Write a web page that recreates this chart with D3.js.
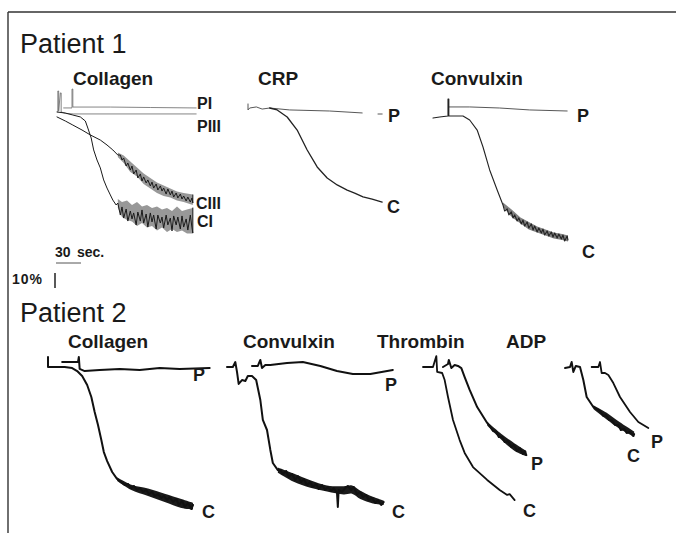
<!DOCTYPE html>
<html lang="en">
<head>
<meta charset="UTF-8">
<title>Platelet aggregation traces</title>
<script src="https://cdn.jsdelivr.net/npm/d3@7"></script>
<style>
    body { margin: 0; background: #fff; }
    svg { display: block; }
    text { font-family: "Liberation Sans", Arial, Helvetica, sans-serif; fill: #1a1a1a; }
</style>
</head>
<body>
<svg id="chart" width="676" height="533"></svg>
<script>
// calibration of the recorder: 30 sec and 10% aggregation
const barSeconds = 30;
const barPercent = 10;

const rowTitles = ["Patient 1", "Patient 2"];
const agonists = ["Collagen", "CRP", "Convulxin", "Collagen", "Convulxin", "Thrombin", "ADP"];
const traceNames = [["PI", "PIII", "CIII", "CI"], ["P", "C"], ["P", "C"], ["P", "C"], ["P", "C"], ["P", "C"], ["C", "P"]];

// traces: [seconds, % change in light transmission]; null = pen lifted
// Patient 1 - Collagen
const p1ColPI = [[8,-2.7],[18,-2.7],[18,-15.3],[19,-15.3],[19,-3.3],[64,-3.3],[112,-3],[167,-2.7]];
const p1ColPIII = [[1,0],[1,-14],[2,-14],[2,-0.7],[4,-12.7],[5,-12.7],[5,0],[11,1],[20,1.3],[167,1.3]];
const p1ColCIII = [[0,3.3],[10,6],[19,8.7],[30,12],[40,15.3],[52,18.7],[60,22],[67,25.3],[73,28.7],
    [76,28.7],[78,32],[80,30.7],[83,36],[85,34],[88,38.7],[90,36],[92,41.3],[95,38.7],[97,44],[100,41.3],
    [102,46],[104,43.3],[107,47.3],[109,45.3],[112,49.3],[114,46.7],[116,50.7],[119,48],[121,52],[124,49.3],
    [126,52.7],[128,50.7],[131,54.7],[133,51.3],[136,55.3],[138,52.7],[140,56.7],[143,54],[145,57.3],[148,54.7],
    [150,58],[152,56],[155,59.3],[157,56.7],[160,60],[162,57.3],[163,60.7],[163,55.3]];
const p1ColCI = [[0,0],[10,0.7],[19,2],[28,3.3],[34,6],[37,10.7],[41,17.3],[44,25.3],[48,32],[52,37.3],[56,45.3],
    [60,50.7],[64,55.3],[67,58.7],[71,62],
    [73,60.7],[76,68.7],[78,63.3],[80,70.7],[83,64.7],[85,72.7],[88,66],[90,71.3],[92,67.3],[95,75.3],[97,66.7],
    [100,72.7],[102,65.3],[104,74],[107,68],[109,76.7],[112,67.3],[114,73.3],[116,68.7],[119,78],[121,68.7],
    [124,74],[126,70],[128,77.3],[131,68.7],[133,75.3],[136,70.7],[138,79.3],[140,69.3],[143,75.3],[145,70],
    [148,78],[150,69.3],[152,76.7],[155,71.3],[157,78.7],[160,68.7],[162,77.3],[163,80.7],[163,64]];
// Patient 1 - CRP
const p1CrpP = [[0,-2.7],[0,1.3],[2,0],[10,-0.7],[17,0.7],[26,0],[50,1.3],[98,2],[137,3.3],null,[156,4],[161,4]];
const p1CrpC = [[26,0],[35,1.3],[47,6],[59,14.7],[71,28],[83,39.3],[95,46.7],[107,51.3],[119,54.7],[128,56.7],
    [138,59.3],[149,60.7],[161,62.7]];
// Patient 1 - Convulxin
const p1CvxP = [[19,-6.7],[44,-6.7],[80,-6],[116,-4.7],[161,-4]];
const p1CvxC = [[0,0.7],[8,0],[18,-0.7],[18,-12],[19,-12],[19,-0.7],[36,-0.7],[44,2],[53,8.7],[60,20],[68,35.3],
    [77,48.7],[84,58.7],[86,62.7],[89,61.3],[91,65.3],[94,63.3],[96,67.3],[98,65.3],[101,69.3],[103,67.3],
    [106,71.3],[108,68.7],[110,72.7],[113,70],[115,74],[118,71.3],[120,75.3],[122,72.7],[125,76.7],[127,74],
    [130,77.3],[132,74.7],[134,78.7],[137,76],[139,79.3],[142,76.7],[144,80],[146,77.3],[149,80.7],[151,78],
    [154,81.3],[156,78.7],[158,82.7],[161,79.3],[162,82]];
// Patient 2 - Collagen
const p2ColP = [[17,-3.3],[36,-3.3],[37,-6.7],[38,1.3],[44,2.7],[62,2],[86,1.3],[110,2],[134,0.7],[158,1.3],[194,0.7]];
const p2ColC = [[0,-6.7],[0,0],[20,0],[29,0.7],[35,2.7],[41,6],[47,12],[52,20],[56,30],[60,38.7],[64,48.7],
    [67,56.7],[71,62.7],[77,70],[83,74.7],[89,77.3],[92,78.7],[96,78],[100,80.7],[103,79.3],[107,82],[110,80.7],
    [114,83.3],[118,82],[121,84.7],[125,83.3],[128,86],[132,84.7],[136,87.3],[139,86],[143,88.7],[146,86.7],
    [150,90],[154,88],[157,92],[161,89.3],[164,93.3],[168,90.7],[172,94.7],[174,92]];
// Patient 2 - Convulxin
const p2CvxP = [[30,-0.7],[37,-0.7],[40,-4.7],[42,0.7],[46,-1.3],[52,-1.3],[72,-2.7],[91,-3.3],[112,-0.7],
    [132,2.7],[151,4.7],[172,4.7],[199,2]];
const p2CvxC = [[0,0],[7,0],[10,-3.3],[12,3.3],[14,11.3],[18,8.7],[22,9.3],[25,6],[30,6],[35,8.7],[37,14],
    [40,22],[43,35.3],[48,42],[52,55.3],[55,64],[61,68.7],
    [64,68.7],[67,71.3],[71,69.3],[74,73.3],[78,71.3],[82,75.3],[85,72.7],[89,76.7],[92,74.7],[96,78.7],
    [100,76.7],[103,80],[107,78],[110,81.3],[114,78.7],[118,82],[121,80],[125,82.7],[128,80.7],[132,84],
    [133,93.3],[134,82],[138,83.3],[142,80.7],[145,79.3],[149,82],[152,80],[156,84.7],[160,83.3],[163,86.7],
    [167,85.3],[170,88.7],[174,87.3],[178,90.7],[181,88.7],[185,92],[188,90]];
// Patient 2 - Thrombin
const p2ThrP = [[24,0],[30,-2],[31,-4.7],[34,0.7],[38,-1.3],[42,-0.7],[46,0.7],[50,6.7],[56,15.3],[65,26.7],
    [77,37.3],[80,39.3],[84,42.7],[88,43.3],[91,46.7],[95,46.7],[98,50],[102,49.3],[106,53.3],[109,52],
    [113,56],[116,54],[120,58],[122,56],[124,58.7]];
const p2ThrC = [[0,0],[12,0],[16,-7.3],[17,3.3],[23,4],[26,8.7],[30,20],[36,35.3],[44,48.7],[50,57.3],[60,66.7],
    [77,75.3],[92,82],[101,85.3],[104,84.7],[107,86.7],[110,88.7]];
// Patient 2 - ADP
const p2AdpC = [[0,0.7],[6,0],[8,-3.3],[10,3.3],[13,-0.7],[18,0],[22,8.7],[26,20],[34,26.7],[42,29.3],[46,32.7],
    [49,32],[53,35.3],[56,35.3],[60,38.7],[64,38.7],[67,42],[71,41.3],[74,44],[78,43.3],[82,46],[83,44.7]];
const p2AdpP = [[32,0],[40,0],[42,-3.3],[44,4],[48,4],[52,5.3],[58,10.7],[66,20],[78,30],[88,36.7],[100,40.7]];

// noise envelopes of the late, jittery part of a trace: [seconds, low %, high %]
const p1ColCIIIBand = [[73,27,30],[80,29,34],[88,33,40],[96,37,43],[104,41,48],[112,44,51],[120,47,54],
    [128,49,56],[136,51,57],[144,53,59],[152,54,60],[163,55,62]];
const p1ColCIBand = [[73,58,64],[78,60,70],[84,59,72],[90,62,73],[96,60,76],[102,63,74],[108,62,77],[114,64,76],
    [120,63,79],[126,65,77],[132,64,80],[138,66,78],[144,63,80],[150,66,79],[156,65,81],[163,64,81]];
const p1CvxCBand = [[84,57,60],[95,62,67],[105,67,71],[115,70,75],[125,73,77],[135,75,79],[145,77,81],
    [155,78,82],[162,79,83]];
const p2ColCBand = [[83,73.5,76],[100,78.5,82],[120,81,86],[140,84.5,90],[160,88,94],[174,90.5,95]];
const p2CvxCBand = [[61,67,70.5],[80,71,76.5],[100,75.5,80.5],[120,79,83],[140,79.5,85],[150,79,84.5],[160,82.5,88],[175,86.5,91],[188,89,92]];
const p2ThrPBand = [[77,36.5,39],[95,45,49],[110,51,56],[124,56,59.5]];
const p2AdpCBand = [[34,25.5,28],[50,30.5,35],[65,36.5,41],[83,43,46.5]];

const traces = [
    [p1ColPI, p1ColPIII, p1ColCIII, p1ColCI],
    [p1CrpP, p1CrpC],
    [p1CvxP, p1CvxC],
    [p2ColP, p2ColC],
    [p2CvxP, p2CvxC],
    [p2ThrP, p2ThrC],
    [p2AdpC, p2AdpP]
];
const bands = [
    [p1ColCIIIBand, p1ColCIBand],
    [],
    [p1CvxCBand],
    [p2ColCBand],
    [p2CvxCBand],
    [p2ThrPBand],
    [p2AdpCBand]
];

// where each recording sits on the page
const layout = [
    { x0: 57,  y0: 112, title: [73, 85],   labels: [[197,109],[197,132],[196,209],[197,227]], labelSize: 16,
      width: [0.8, 0.8, 1, 1], color: ["#666", "#666", "#1a1a1a", "#1a1a1a"], bandOpacity: 0.45, smooth: false },
    { x0: 248, y0: 108, title: [258, 85],  labels: [[388,122],[387,213]], labelSize: 18,
      width: [0.9, 1.3], color: ["#444", "#222"], bandOpacity: 0.8, smooth: true },
    { x0: 433, y0: 117, title: [431, 85],  labels: [[577,122],[582,258]], labelSize: 18,
      width: [0.9, 1.1], color: ["#444", "#222"], bandOpacity: 0.55, smooth: false },
    { x0: 48,  y0: 367, title: [68, 348],  labels: [[193,381],[202,518]], labelSize: 18,
      width: [2, 2], color: ["#111", "#111"], bandOpacity: 1, smooth: true },
    { x0: 227, y0: 367, title: [243, 348], labels: [[385,391],[392,518]], labelSize: 18,
      width: [2, 2], color: ["#111", "#111"], bandOpacity: 1, smooth: true },
    { x0: 423, y0: 367, title: [377, 348], labels: [[531,470],[523,517]], labelSize: 18,
      width: [2, 1.8], color: ["#111", "#111"], bandOpacity: 1, smooth: true },
    { x0: 565, y0: 367, title: [506, 348], labels: [[627,462],[651,448]], labelSize: 18,
      width: [2, 1.8], color: ["#111", "#111"], bandOpacity: 1, smooth: true }
];

const pxPerBarX = 25, pxPerBarY = 15;
const svg = d3.select("#chart");

// frame
svg.append("line").attr("x1", 8).attr("y1", 12).attr("x2", 676).attr("y2", 12)
    .attr("stroke", "#333").attr("stroke-width", 1.4);
svg.append("line").attr("x1", 8).attr("y1", 12).attr("x2", 8).attr("y2", 533)
    .attr("stroke", "#333").attr("stroke-width", 1.4);

svg.selectAll("text.row")
    .data(rowTitles)
    .join("text")
    .attr("class", "row")
    .attr("x", 20)
    .attr("y", (d, i) => i === 0 ? 53 : 322)
    .attr("font-size", "27px")
    .text(d => d);

layout.forEach((p, i) => {
    const x = d3.scaleLinear().domain([0, barSeconds]).range([p.x0, p.x0 + pxPerBarX]);
    const y = d3.scaleLinear().domain([0, barPercent]).range([p.y0, p.y0 + pxPerBarY]);
    const line = d3.line()
        .defined(d => d !== null)
        .x(d => x(d[0]))
        .y(d => y(d[1]));
    const area = d3.area()
        .x(d => x(d[0]))
        .y0(d => y(d[1]))
        .y1(d => y(d[2]))
        .curve(p.smooth ? d3.curveCatmullRom : d3.curveLinear);

    const g = svg.append("g");
    g.selectAll("path.band")
        .data(bands[i])
        .join("path")
        .attr("class", "band")
        .attr("d", area)
        .attr("fill", "#1a1a1a")
        .attr("fill-opacity", p.bandOpacity);

    g.selectAll("path.trace")
        .data(traces[i])
        .join("path")
        .attr("class", "trace")
        .attr("d", line)
        .attr("fill", "none")
        .attr("stroke", (d, j) => p.color[j])
        .attr("stroke-width", (d, j) => p.width[j])
        .attr("stroke-linejoin", "round")
        .attr("stroke-linecap", "round");

    g.append("text")
        .attr("x", p.title[0]).attr("y", p.title[1])
        .attr("font-size", "19px").attr("font-weight", "bold")
        .text(agonists[i]);

    g.selectAll("text.lab")
        .data(traceNames[i])
        .join("text")
        .attr("class", "lab")
        .attr("x", (d, j) => p.labels[j][0])
        .attr("y", (d, j) => p.labels[j][1])
        .attr("font-size", p.labelSize + "px").attr("font-weight", "bold")
        .text(d => d);
});

// scale bars
const barX = d3.scaleLinear().domain([0, barSeconds]).range([56, 56 + pxPerBarX]);
const barY = d3.scaleLinear().domain([0, barPercent]).range([273, 273 + pxPerBarY]);
svg.append("line")
    .attr("x1", barX(0)).attr("x2", barX(barSeconds)).attr("y1", 263).attr("y2", 263)
    .attr("stroke", "#555").attr("stroke-width", 1);
svg.append("line")
    .attr("x1", 55).attr("x2", 55).attr("y1", barY(0)).attr("y2", barY(barPercent))
    .attr("stroke", "#222").attr("stroke-width", 1.5);
svg.append("text").attr("x", 55).attr("y", 257)
    .attr("font-size", "14px").attr("font-weight", "bold").text(barSeconds);
svg.append("text").attr("x", 77).attr("y", 257)
    .attr("font-size", "14px").attr("font-weight", "bold").text("sec.");
svg.append("text").attr("x", 12).attr("y", 284)
    .attr("font-size", "14px").attr("font-weight", "bold").attr("letter-spacing", "1px")
    .text(barPercent + "%");
</script>
</body>
</html>
